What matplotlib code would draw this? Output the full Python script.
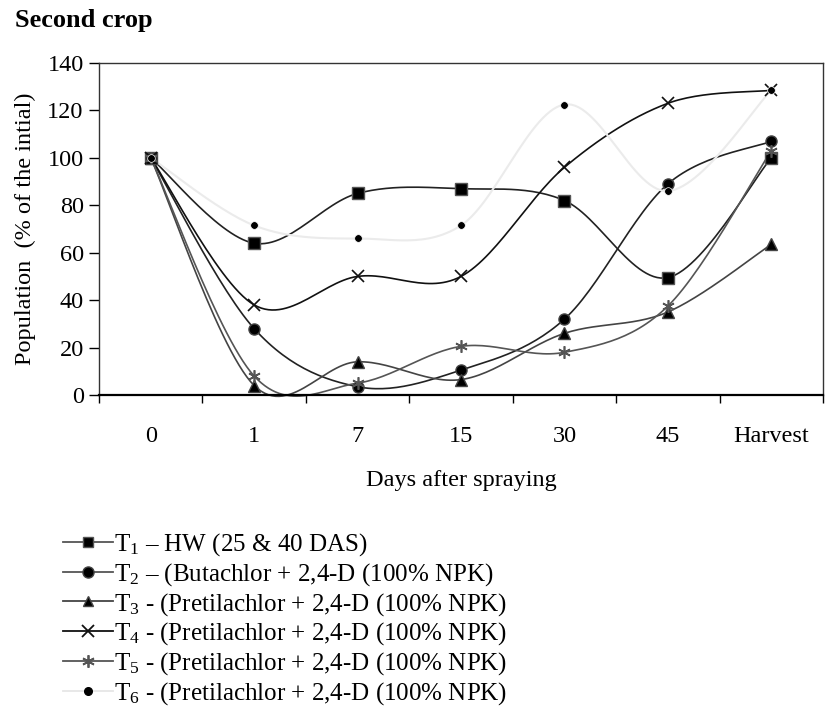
import numpy as np
import matplotlib
matplotlib.use("Agg")
import matplotlib.pyplot as plt
from matplotlib.lines import Line2D

plt.rcParams['font.family'] = ['Liberation Serif', 'DejaVu Serif']
plt.rcParams['mathtext.fontset'] = 'custom'
plt.rcParams['mathtext.rm'] = 'Liberation Serif'
plt.rcParams['mathtext.it'] = 'Liberation Serif'

categories = ['0', '1', '7', '15', '30', '45', 'Harvest']
t1 = [100, 64, 85, 87, 82, 49.5, 100]
t2 = [100, 28, 3.5, 10.5, 32, 89, 107]
t3 = [100, 4, 14, 6.5, 26, 35, 63.5]
t4 = [100, 38, 50, 50, 96, 123, 128.5]
t5 = [100, 8, 5, 20.5, 18, 37.5, 103]
t6 = [100, 71.5, 66, 71.5, 122.5, 86, 128.5]
labels = [r'T$_1$ – HW (25 & 40 DAS)',
          r'T$_2$ – (Butachlor + 2,4-D (100% NPK)',
          r'T$_3$ - (Pretilachlor + 2,4-D (100% NPK)',
          r'T$_4$ - (Pretilachlor + 2,4-D (100% NPK)',
          r'T$_5$ - (Pretilachlor + 2,4-D (100% NPK)',
          r'T$_6$ - (Pretilachlor + 2,4-D (100% NPK)']

styles = [
    dict(color='#222222', marker='s', ms=8.5, mfc='black', mec='#555555', lw=1.2),
    dict(color='#222222', marker='o', ms=8, mfc='black', mec='#444444', lw=1.2),
    dict(color='#444444', marker='^', ms=8, mfc='black', mec='#444444', lw=1.2),
    dict(color='#111111', marker='x', ms=8.5, mfc='black', mec='#111111', mew=1.2, lw=1.2),
    dict(color='#555555', marker=(6, 2, 0), ms=9, mfc='#555555', mec='#555555', mew=1.2, lw=1.2),
    dict(color='#ebebeb', marker='o', ms=5.5, mfc='black', mec='white', mew=0.5, lw=1.5),
]
leg_styles = [
    dict(color='#555555', marker='s', ms=7.5, mfc='black', mec='#555555', lw=1.3),
    dict(color='#555555', marker='o', ms=8, mfc='black', mec='#444444', lw=1.3),
    dict(color='#444444', marker='^', ms=7.5, mfc='black', mec='#444444', lw=1.3),
    dict(color='#111111', marker='x', ms=8, mfc='black', mec='#111111', mew=1.3, lw=1.3),
    dict(color='#555555', marker=(6, 2, 0), ms=9, mfc='#555555', mec='#555555', mew=1.3, lw=1.3),
    dict(color='#e6e6e6', marker='o', ms=5.5, mfc='black', mec='black', lw=1.3),
]


def smooth(x, y, n=30):
    x = np.asarray(x, float); y = np.asarray(y, float)
    P = np.column_stack([x, y])
    out = []
    for i in range(len(P) - 1):
        p0 = P[i - 1] if i > 0 else P[i]
        p1 = P[i]; p2 = P[i + 1]
        p3 = P[i + 2] if i + 2 < len(P) else P[i + 1]
        c1 = p1 + (p2 - p0) / 6.0
        c2 = p2 - (p3 - p1) / 6.0
        t = np.linspace(0, 1, n)[:, None]
        seg = ((1 - t) ** 3) * p1 + 3 * ((1 - t) ** 2) * t * c1 + 3 * (1 - t) * t ** 2 * c2 + t ** 3 * p2
        out.append(seg if i == 0 else seg[1:])
    s = np.vstack(out)
    return s[:, 0], s[:, 1]


fig = plt.figure(figsize=(8.25, 7.14), dpi=100)
ax = fig.add_axes([99 / 825, 1 - 395 / 714, (823 - 99) / 825, (395 - 63) / 714])
x = np.arange(len(categories))
series = [t1, t2, t3, t4, t5, t6]
for ys, st in zip(series, styles):
    sx, sy = smooth(x, ys)
    ax.plot(sx, sy, color=st['color'], lw=st['lw'], zorder=2, clip_on=False)
    ax.plot(x, ys, ls='none', marker=st['marker'], ms=st['ms'], mfc=st['mfc'],
            mec=st['mec'], mew=st.get('mew', 1.0), zorder=3, clip_on=False)

ax.set_xlim(-0.5, len(categories) - 0.5)
ax.set_ylim(0, 140)
ax.set_yticks(np.arange(0, 141, 20))
ax.set_xticks(np.arange(-0.5, len(categories), 1.0))
ax.set_xticklabels([])
ax.set_xticks(x, minor=True)
ax.set_xticklabels(categories, minor=True)
ax.tick_params(axis='x', which='major', direction='out', length=6, width=1)
ax.tick_params(axis='x', which='minor', length=0, pad=22, labelsize=17.5)
ax.tick_params(axis='y', direction='out', length=7, width=1, labelsize=17.5, pad=4)
for sp in ax.spines.values():
    sp.set_linewidth(1.0)
    sp.set_color('#333333')
ax.spines['bottom'].set_linewidth(1.6)
ax.spines['bottom'].set_color('black')

ax.set_xlabel('Days after spraying', fontsize=17.5, labelpad=17)
ax.set_ylabel('Population  (% of the intial)', fontsize=17.5, labelpad=8)

fig.text(15 / 825, 1 - 21 / 714, 'Second crop', fontsize=19, fontweight='bold', va='center', ha='left')

handles = [Line2D([0], [0], **st) for st in leg_styles]
fig.legend(handles, labels, loc='upper left', bbox_to_anchor=(63 / 825, 1 - 531 / 714),
           frameon=False, fontsize=18, handlelength=2.0, handletextpad=0.05,
           labelspacing=0.12, borderaxespad=0, borderpad=0)

fig.savefig('out.png', dpi=100)
